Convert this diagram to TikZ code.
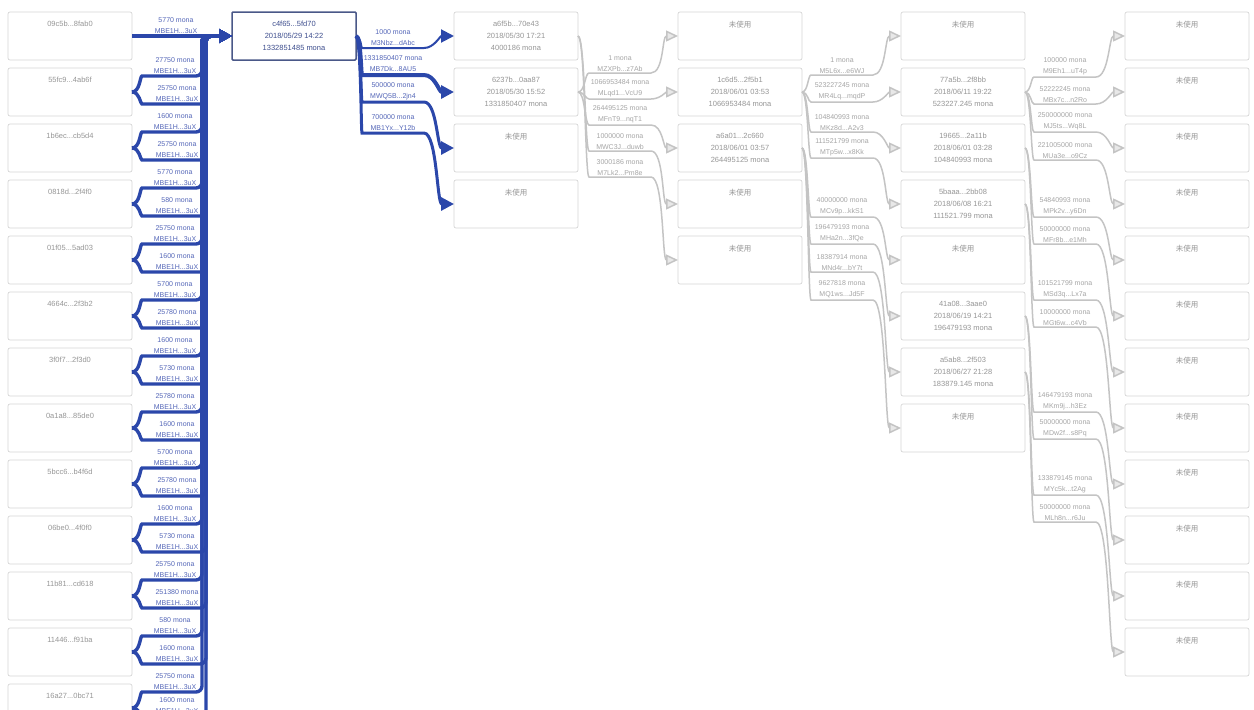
\documentclass[tikz,border=0pt]{standalone}
\usepackage{fontspec}
\setmainfont{Liberation Sans}
\newfontfamily\cjk{Noto Sans CJK SC}
\usepackage{xcolor}
\usepackage{tikz}
\usetikzlibrary{positioning,arrows.meta}
\definecolor{flowblue}{HTML}{2B47AA}
\definecolor{labblue}{HTML}{5466B8}
\definecolor{hubline}{HTML}{4A5888}
\definecolor{hubtext}{HTML}{3E4E8E}
\definecolor{boxline}{HTML}{D6D6D6}
\definecolor{boxtext}{HTML}{969696}
\definecolor{edgegray}{HTML}{C4C4C4}
\definecolor{arrowfill}{HTML}{E8E8E8}
\definecolor{labgray}{HTML}{A6A6A6}
\newcommand\unusedtag{{\cjk 未使用}\\~\\~}

\begin{document}
\begin{tikzpicture}[x=1pt, y=1pt,
    box/.style={rectangle, rounded corners=2pt, draw=boxline, line width=0.7pt, outer sep=0pt,
        minimum width=124pt, minimum height=48pt, inner sep=2pt, text=boxtext,
        font=\fontsize{7.5}{12}\selectfont, align=center},
    hubbox/.style={box, draw=hubline, line width=1.5pt, rounded corners=1pt, text=hubtext},
    elab/.style={font=\fontsize{7}{11}\selectfont, text=labgray, align=center, inner sep=1pt},
    blab/.style={elab, text=labblue},
    sway/.style={out=0, in=180, max distance=#1},
    inflow/.style={-{Triangle[length=13pt,width=13pt]}, draw=flowblue, line width=3.4pt, rounded corners=6pt},
    outflow/.style={-{Triangle[length=13pt,width=13pt]}, draw=flowblue, line width=2.6pt, rounded corners=4pt},
    flow/.style={-{Triangle[length=12pt,width=11pt,fill=arrowfill]}, draw=edgegray, line width=1.5pt, rounded corners=3pt}
]
\fill[white] (0,0) rectangle (1254,-710);
\useasboundingbox (0,0) rectangle (1254,-710);

% inputs
\node[box] (in1) at (70,-36) {09c5b...8fab0\\~\\~};
\node[box, below=8pt of in1] (in2) {55fc9...4ab6f\\~\\~};
\node[box, below=8pt of in2] (in3) {1b6ec...cb5d4\\~\\~};
\node[box, below=8pt of in3] (in4) {0818d...2f4f0\\~\\~};
\node[box, below=8pt of in4] (in5) {01f05...5ad03\\~\\~};
\node[box, below=8pt of in5] (in6) {4664c...2f3b2\\~\\~};
\node[box, below=8pt of in6] (in7) {3f0f7...2f3d0\\~\\~};
\node[box, below=8pt of in7] (in8) {0a1a8...85de0\\~\\~};
\node[box, below=8pt of in8] (in9) {5bcc6...b4f6d\\~\\~};
\node[box, below=8pt of in9] (in10) {06be0...4f0f0\\~\\~};
\node[box, below=8pt of in10] (in11) {11b81...cd618\\~\\~};
\node[box, below=8pt of in11] (in12) {11446...f91ba\\~\\~};
\node[box, below=8pt of in12] (in13) {16a27...0bc71\\~\\~};

% traced transaction
\node[hubbox, right=100pt of in1] (hub) {c4f65...5fd70\\2018/05/29 14:22\\1332851485 mona};

% outputs, step 1
\node[box, right=98pt of hub] (o1) {a6f5b...70e43\\2018/05/30 17:21\\4000186 mona};
\node[box, below=8pt of o1] (o2) {6237b...0aa87\\2018/05/30 15:52\\1331850407 mona};
\node[box, below=8pt of o2] (o3) {\unusedtag};
\node[box, below=8pt of o3] (o4) {\unusedtag};

% step 2
\node[box, right=100pt of o1] (p1) {\unusedtag};
\node[box, below=8pt of p1] (p2) {1c6d5...2f5b1\\2018/06/01 03:53\\1066953484 mona};
\node[box, below=8pt of p2] (p3) {a6a01...2c660\\2018/06/01 03:57\\264495125 mona};
\node[box, below=8pt of p3] (p4) {\unusedtag};
\node[box, below=8pt of p4] (p5) {\unusedtag};

% step 3
\node[box, right=99pt of p1] (q1) {\unusedtag};
\node[box, below=8pt of q1] (q2) {77a5b...2f8bb\\2018/06/11 19:22\\523227.245 mona};
\node[box, below=8pt of q2] (q3) {19665...2a11b\\2018/06/01 03:28\\104840993 mona};
\node[box, below=8pt of q3] (q4) {5baaa...2bb08\\2018/06/08 16:21\\111521.799 mona};
\node[box, below=8pt of q4] (q5) {\unusedtag};
\node[box, below=8pt of q5] (q6) {41a08...3aae0\\2018/06/19 14:21\\196479193 mona};
\node[box, below=8pt of q6] (q7) {a5ab8...2f503\\2018/06/27 21:28\\183879.145 mona};
\node[box, below=8pt of q7] (q8) {\unusedtag};

% step 4
\node[box, right=100pt of q1] (r1) {\unusedtag};
\node[box, below=8pt of r1] (r2) {\unusedtag};
\node[box, below=8pt of r2] (r3) {\unusedtag};
\node[box, below=8pt of r3] (r4) {\unusedtag};
\node[box, below=8pt of r4] (r5) {\unusedtag};
\node[box, below=8pt of r5] (r6) {\unusedtag};
\node[box, below=8pt of r6] (r7) {\unusedtag};
\node[box, below=8pt of r7] (r8) {\unusedtag};
\node[box, below=8pt of r8] (r9) {\unusedtag};
\node[box, below=8pt of r9] (r10) {\unusedtag};
\node[box, below=8pt of r10] (r11) {\unusedtag};
\node[box, below=8pt of r11] (r12) {\unusedtag};

% gray flows
\draw[flow] (o2.east) to[sway=7pt] ++(14,19) -- node[above,elab]{1 mona\\MZXPb...z7Ab} ++(56,0) to[sway=16pt] (p1.west);
\draw[flow] (o2.east) to[sway=7pt] ++(14,-7) -- node[above,elab]{1066953484 mona\\MLqd1...VcU9} ++(56,0) to[sway=16pt] (p2.west);
\draw[flow] (o2.east) to[sway=7pt] ++(14,-33) -- node[above,elab]{264495125 mona\\MFnT9...nqT1} ++(56,0) to[sway=16pt] (p3.west);
\draw[flow] (o1.east) to[sway=7pt] ++(14,-115) -- node[above,elab]{1000000 mona\\MWC3J...duwb} ++(56,0) to[sway=16pt] (p4.west);
\draw[flow] (o1.east) to[sway=7pt] ++(14,-141) -- node[above,elab]{3000186 mona\\M7Lk2...Pm8e} ++(56,0) to[sway=16pt] (p5.west);

\draw[flow] (p2.east) to[sway=6pt] ++(12,17) -- node[above,elab]{1 mona\\M5L6x...e6WJ} ++(56,0) to[sway=16pt] (q1.west);
\draw[flow] (p2.east) to[sway=6pt] ++(12,-10) -- node[above,elab]{523227245 mona\\MR4Lq...mqdP} ++(56,0) to[sway=16pt] (q2.west);
\draw[flow] (p2.east) to[sway=6pt] ++(12,-40) -- node[above,elab]{104840993 mona\\MKz8d...A2v3} ++(56,0) to[sway=16pt] (q3.west);
\draw[flow] (p2.east) to[sway=6pt] ++(12,-66) -- node[above,elab]{111521799 mona\\MTp5w...x8Kk} ++(56,0) to[sway=16pt] (q4.west);
\draw[flow] (p3.east) to[sway=6pt] ++(12,-69) -- node[above,elab]{40000000 mona\\MCv9p...kkS1} ++(56,0) to[sway=16pt] (q5.west);
\draw[flow] (p3.east) to[sway=6pt] ++(12,-96) -- node[above,elab]{196479193 mona\\MHa2n...3fQe} ++(56,0) to[sway=16pt] (q6.west);
\draw[flow] (p3.east) to[sway=6pt] ++(12,-124) -- node[above,elab]{18387914 mona\\MNd4r...bY7t} ++(56,0) to[sway=16pt] (q7.west);
\draw[flow] (p3.east) to[sway=6pt] ++(12,-152) -- node[above,elab]{9627818 mona\\MQ1ws...Jd5F} ++(56,0) to[sway=16pt] (q8.west);

\draw[flow] (q2.east) to[sway=6pt] ++(12,15) -- node[above,elab]{100000 mona\\M9Eh1...uT4p} ++(56,0) to[sway=16pt] (r1.west);
\draw[flow] (q2.east) to[sway=6pt] ++(12,-12) -- node[above,elab]{52222245 mona\\MBx7c...n2Ro} ++(56,0) to[sway=16pt] (r2.west);
\draw[flow] (q2.east) to[sway=6pt] ++(12,-40) -- node[above,elab]{250000000 mona\\MJ5ts...Wq8L} ++(56,0) to[sway=16pt] (r3.west);
\draw[flow] (q2.east) to[sway=6pt] ++(12,-68) -- node[above,elab]{221005000 mona\\MUa3e...o9Cz} ++(56,0) to[sway=16pt] (r4.west);
\draw[flow] (q3.east) to[sway=6pt] ++(12,-69) -- node[above,elab]{54840993 mona\\MPk2v...y6Dn} ++(56,0) to[sway=16pt] (r5.west);
\draw[flow] (q3.east) to[sway=6pt] ++(12,-96) -- node[above,elab]{50000000 mona\\MFr8b...e1Mh} ++(56,0) to[sway=16pt] (r6.west);
\draw[flow] (q4.east) to[sway=6pt] ++(12,-96) -- node[above,elab]{101521799 mona\\MSd3q...Lx7a} ++(56,0) to[sway=16pt] (r7.west);
\draw[flow] (q4.east) to[sway=6pt] ++(12,-123) -- node[above,elab]{10000000 mona\\MGt6w...c4Vb} ++(56,0) to[sway=16pt] (r8.west);
\draw[flow] (q6.east) to[sway=6pt] ++(12,-96) -- node[above,elab]{146479193 mona\\MKm9j...h3Ez} ++(56,0) to[sway=16pt] (r9.west);
\draw[flow] (q6.east) to[sway=6pt] ++(12,-123) -- node[above,elab]{50000000 mona\\MDw2f...s8Pq} ++(56,0) to[sway=16pt] (r10.west);
\draw[flow] (q7.east) to[sway=6pt] ++(12,-123) -- node[above,elab]{133879145 mona\\MYc5k...t2Ag} ++(56,0) to[sway=16pt] (r11.west);
\draw[flow] (q7.east) to[sway=6pt] ++(12,-150) -- node[above,elab]{50000000 mona\\MLh8n...r6Ju} ++(56,0) to[sway=16pt] (r12.west);

% blue flows into the traced transaction
\draw[inflow] (in1.east) -- node[pos=0.44,above,blab]{5770 mona\\MBE1H...3uX} (hub.west);
\draw[inflow] (in2.east) to[sway=8pt] ++(16,16) -- node[above,blab]{27750 mona\\MBE1H...3uX} ++(54,0) |- (hub.west);
\draw[inflow] (in2.east) to[sway=8pt] ++(16,-12) -- node[above,blab]{25750 mona\\MBE1H...3uX} ++(58,0) |- (hub.west);
\draw[inflow] (in3.east) to[sway=8pt] ++(16,16) -- node[above,blab]{1600 mona\\MBE1H...3uX} ++(54,0) |- (hub.west);
\draw[inflow] (in3.east) to[sway=8pt] ++(16,-12) -- node[above,blab]{25750 mona\\MBE1H...3uX} ++(58,0) |- (hub.west);
\draw[inflow] (in4.east) to[sway=8pt] ++(16,16) -- node[above,blab]{5770 mona\\MBE1H...3uX} ++(54,0) |- (hub.west);
\draw[inflow] (in4.east) to[sway=8pt] ++(16,-12) -- node[above,blab]{580 mona\\MBE1H...3uX} ++(58,0) |- (hub.west);
\draw[inflow] (in5.east) to[sway=8pt] ++(16,16) -- node[above,blab]{25750 mona\\MBE1H...3uX} ++(54,0) |- (hub.west);
\draw[inflow] (in5.east) to[sway=8pt] ++(16,-12) -- node[above,blab]{1600 mona\\MBE1H...3uX} ++(58,0) |- (hub.west);
\draw[inflow] (in6.east) to[sway=8pt] ++(16,16) -- node[above,blab]{5700 mona\\MBE1H...3uX} ++(54,0) |- (hub.west);
\draw[inflow] (in6.east) to[sway=8pt] ++(16,-12) -- node[above,blab]{25780 mona\\MBE1H...3uX} ++(58,0) |- (hub.west);
\draw[inflow] (in7.east) to[sway=8pt] ++(16,16) -- node[above,blab]{1600 mona\\MBE1H...3uX} ++(54,0) |- (hub.west);
\draw[inflow] (in7.east) to[sway=8pt] ++(16,-12) -- node[above,blab]{5730 mona\\MBE1H...3uX} ++(58,0) |- (hub.west);
\draw[inflow] (in8.east) to[sway=8pt] ++(16,16) -- node[above,blab]{25780 mona\\MBE1H...3uX} ++(54,0) |- (hub.west);
\draw[inflow] (in8.east) to[sway=8pt] ++(16,-12) -- node[above,blab]{1600 mona\\MBE1H...3uX} ++(58,0) |- (hub.west);
\draw[inflow] (in9.east) to[sway=8pt] ++(16,16) -- node[above,blab]{5700 mona\\MBE1H...3uX} ++(54,0) |- (hub.west);
\draw[inflow] (in9.east) to[sway=8pt] ++(16,-12) -- node[above,blab]{25780 mona\\MBE1H...3uX} ++(58,0) |- (hub.west);
\draw[inflow] (in10.east) to[sway=8pt] ++(16,16) -- node[above,blab]{1600 mona\\MBE1H...3uX} ++(54,0) |- (hub.west);
\draw[inflow] (in10.east) to[sway=8pt] ++(16,-12) -- node[above,blab]{5730 mona\\MBE1H...3uX} ++(58,0) |- (hub.west);
\draw[inflow] (in11.east) to[sway=8pt] ++(16,16) -- node[above,blab]{25750 mona\\MBE1H...3uX} ++(54,0) |- (hub.west);
\draw[inflow] (in11.east) to[sway=8pt] ++(16,-12) -- node[above,blab]{251380 mona\\MBE1H...3uX} ++(58,0) |- (hub.west);
\draw[inflow] (in12.east) to[sway=8pt] ++(16,16) -- node[above,blab]{580 mona\\MBE1H...3uX} ++(54,0) |- (hub.west);
\draw[inflow] (in12.east) to[sway=8pt] ++(16,-12) -- node[above,blab]{1600 mona\\MBE1H...3uX} ++(58,0) |- (hub.west);
\draw[inflow] (in13.east) to[sway=8pt] ++(16,16) -- node[above,blab]{25750 mona\\MBE1H...3uX} ++(54,0) |- (hub.west);
\draw[inflow] (in13.east) to[sway=8pt] ++(16,-8) -- node[above,blab]{1600 mona\\MBE1H...3uX} ++(58,0) |- (hub.west);

% blue flows out of the traced transaction
\draw[outflow, line width=2pt] (hub.east) to[sway=5pt] ++(10,-12) -- node[above,blab]{1000 mona\\M3Nbz...dAbc} ++(54,0) to[sway=17pt] (o1.west);
\draw[outflow, line width=4pt] (hub.east) to[sway=5pt] ++(10,-39) -- node[above,blab]{1331850407 mona\\MB7Dk...8AU5} ++(54,0) to[sway=17pt] (o2.west);
\draw[outflow, line width=3pt] (hub.east) to[sway=5pt] ++(10,-66) -- node[above,blab]{500000 mona\\MWQ5B...2jn4} ++(54,0) to[sway=17pt] (o3.west);
\draw[outflow, line width=3pt] (hub.east) to[sway=5pt] ++(10,-97) -- node[above,blab]{700000 mona\\MB1Yx...Y12b} ++(54,0) to[sway=17pt] (o4.west);
\end{tikzpicture}
\end{document}
